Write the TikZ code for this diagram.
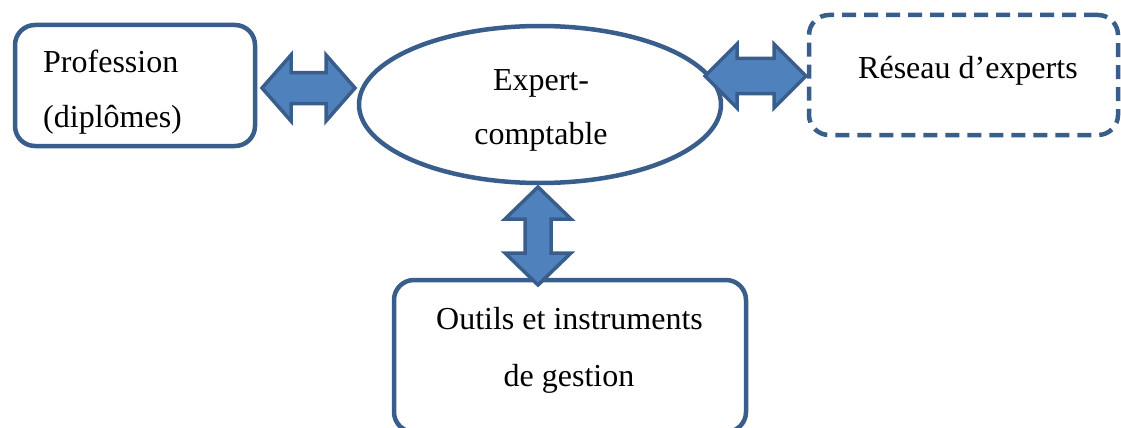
\documentclass[tikz,border=0pt]{standalone}
\usepackage{fontspec}
\setmainfont{Liberation Serif}
\definecolor{bord}{RGB}{58,94,140}
\definecolor{fillc}{RGB}{79,129,189}
\tikzset{
  box/.style={draw=bord, line width=4.5pt, rounded corners=20pt, inner sep=0pt},
  dbox/.style={box, dash pattern=on 14pt off 8pt},
  ell/.style={draw=bord, line width=4.5pt, ellipse, inner sep=0pt},
  txt/.style={inner sep=0pt, font=\fontsize{32}{38}\selectfont},
  blockarrow/.style={draw=bord, fill=fillc, line width=3.5pt, line join=miter}
}
\usetikzlibrary{shapes.geometric}
\newcommand{\hdbl}[6]{%
 \draw[blockarrow] (#1,#3) -- (#1+#6,#3-#4) -- (#1+#6,#3-#5) -- (#2-#6,#3-#5) -- (#2-#6,#3-#4) -- (#2,#3) -- (#2-#6,#3+#4) -- (#2-#6,#3+#5) -- (#1+#6,#3+#5) -- (#1+#6,#3+#4) -- cycle;}
\newcommand{\vdbl}[6]{%
 \draw[blockarrow] (#3,#1) -- (#3-#4,#1+#6) -- (#3-#5,#1+#6) -- (#3-#5,#2-#6) -- (#3-#4,#2-#6) -- (#3,#2) -- (#3+#4,#2-#6) -- (#3+#5,#2-#6) -- (#3+#5,#1+#6) -- (#3+#4,#1+#6) -- cycle;}
\begin{document}
\begin{tikzpicture}[x=1pt,y=-1pt]
\useasboundingbox (0,0) rectangle (1121,428);
% shapes
\node[box, minimum width=240pt, minimum height=121pt] (prof) at (135,85.5) {};
\node[ell, minimum width=362pt, minimum height=157pt] (expc) at (540,104.5) {};
\node[dbox, minimum width=309pt, minimum height=120pt] (res) at (963.5,75) {};
\node[box, minimum width=352pt, minimum height=152pt] (outil) at (570,356) {};
% texts
\node[txt, anchor=base west] (t1) at (43,72) {Profession};
\node[txt, anchor=base west] (t2) at (43,127) {(diplômes)};
\node[txt, anchor=base] (t3) at (541,90) {Expert-};
\node[txt, anchor=base] (t4) at (541,144) {comptable};
\node[txt, anchor=base west] (t5) at (858,78) {Réseau d’experts};
\node[txt, anchor=base] (t6) at (569.5,329) {Outils et instruments};
\node[txt, anchor=base] (t7) at (569,386) {de gestion};
% double arrows between nodes
\hdbl{262}{355}{88}{33}{15.5}{29}
\hdbl{705}{806}{76}{32}{17.5}{32}
\vdbl{187}{285}{538}{33}{13}{32}
\end{tikzpicture}
\end{document}
